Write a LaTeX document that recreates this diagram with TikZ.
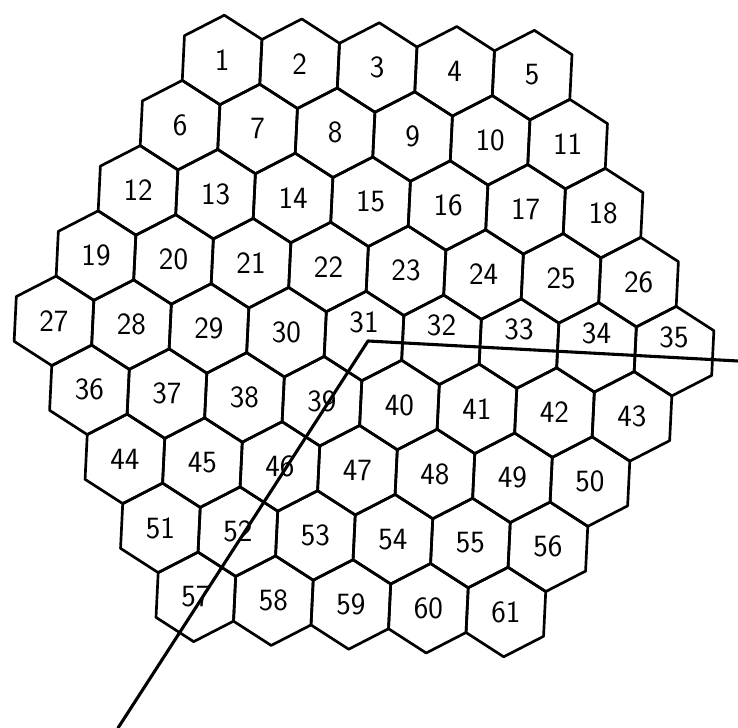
\documentclass[tikz,border=0pt]{standalone}
\usetikzlibrary{shapes.geometric}
\newcommand{\nhanso}[1]{\ifnum#1>30 \ifnum#1<36 \raisebox{.35cm}[\height][\depth]{#1}\else#1\fi\else#1\fi}
\begin{document}
\begin{tikzpicture}[x=.025cm, y=.025cm, line cap=round, line join=round,
	o/.style={draw, line width=1.9pt, regular polygon, regular polygon sides=6,
		shape border rotate=27.2, minimum size=2.24cm, inner sep=0pt,
		font=\sffamily\fontsize{22}{22}\selectfont}]
	
	\useasboundingbox (0,0) rectangle (738,728);
	
	% Các ô lục giác (61 ô, xoay nhẹ)
	\foreach \r/\s in {-4/1,-3/6,-2/12,-1/19,0/27,1/36,2/44,3/51,4/57} {
		\pgfmathtruncatemacro{\m}{8-abs(\r)}
		\foreach \k in {0,...,\m} {
			\pgfmathtruncatemacro{\so}{\s+\k}
			\pgfmathsetmacro{\u}{(\k-\m/2)*77.6}
			\pgfmathsetmacro{\v}{\r*67.2}
			\node[o] (h\so) at ({364+\u*cos(2.8)-\v*sin(2.8)},{392-\u*sin(2.8)-\v*cos(2.8)}) {\nhanso{\so}};
		}
	}
	
	% Hai tia từ điểm A
	\coordinate (A) at (368,387);
	\coordinate (B) at (738,367);
	\coordinate (C) at (118,0);
	\draw[line width=2.2pt] (C) -- (A) -- (B);
	
\end{tikzpicture}
\end{document}
